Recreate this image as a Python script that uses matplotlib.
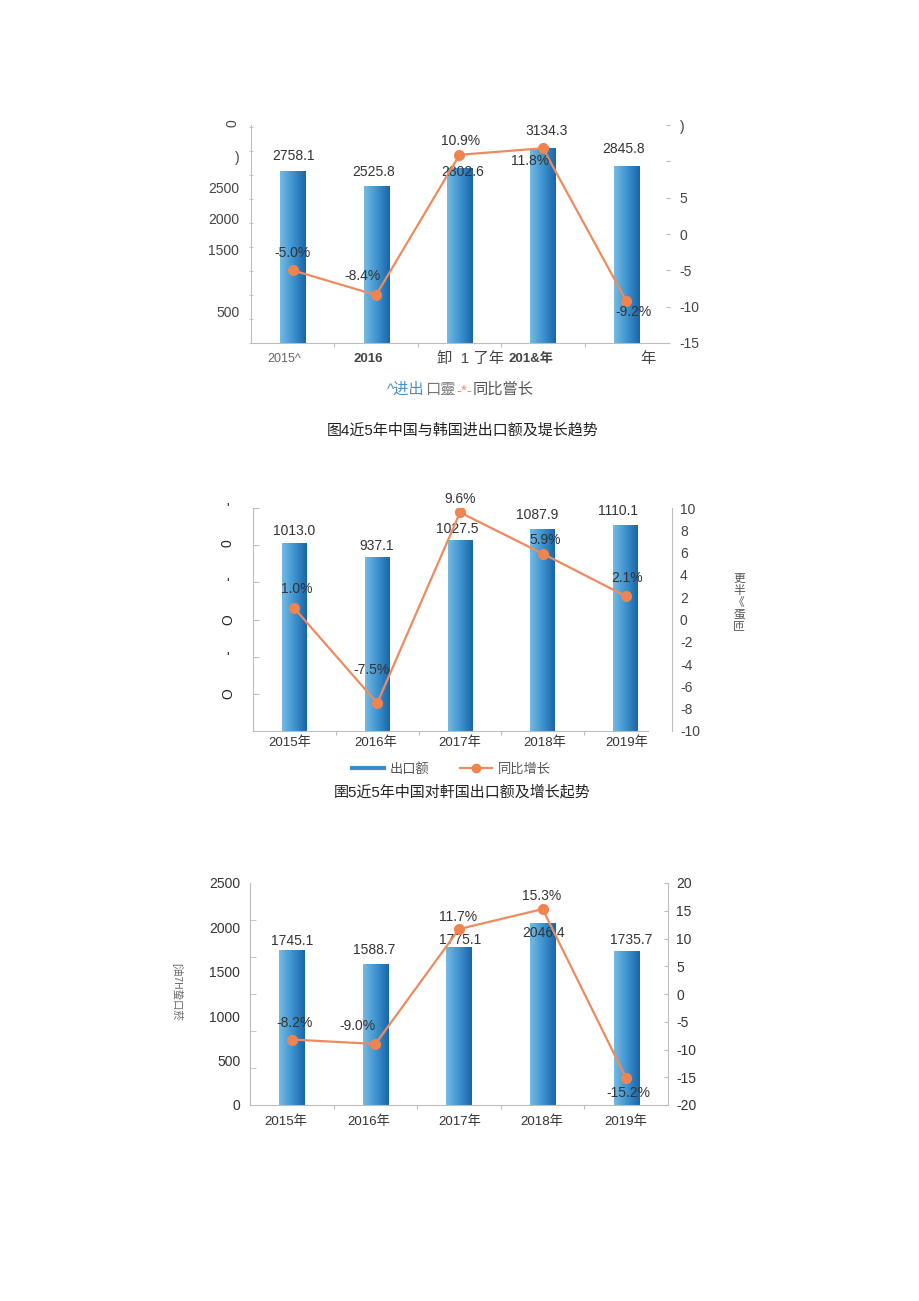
import matplotlib
matplotlib.use('Agg')
import matplotlib.pyplot as plt
import numpy as np
from matplotlib.colors import LinearSegmentedColormap
from matplotlib.lines import Line2D

plt.rcParams['font.family'] = ['Liberation Sans', 'Noto Sans CJK SC']
plt.rcParams['axes.unicode_minus'] = False

W, H = 920, 1301
PT = 0.72  # points per pixel at 100 dpi

# ---- data ----
years = ['2015年', '2016年', '2017年', '2018年', '2019年']
years_c1 = ['2015^', '2016', '卸  1 了年', '201&年', '年']

trade_total = [2758.1, 2525.8, 2802.6, 3134.3, 2845.8]
trade_growth = [-5.0, -8.4, 10.9, 11.8, -9.2]

export_total = [1013.0, 937.1, 1027.5, 1087.9, 1110.1]
export_growth = [1.0, -7.5, 9.6, 5.9, 2.1]

import_total = [1745.1, 1588.7, 1775.1, 2046.4, 1735.7]
import_growth = [-8.2, -9.0, 11.7, 15.3, -15.2]

c1_left_ticks = [500, 1500, 2000, 2500, 3000, 3500]
c1_left_labels = ['500', '1500', '2000', '2500', ')', '0']
c1_right_ticks = [-15, -10, -5, 0, 5, 10, 15]
c1_right_labels = ['-15', '-10', '-5', '0', '5', '', ')']

c2_left_ticks = [200, 400, 600, 800, 1000, 1200]
c2_left_labels = ['O', "'", 'O', "'", '0', "'"]
c2_right_ticks = [-10, -8, -6, -4, -2, 0, 2, 4, 6, 8, 10]

c3_left_ticks = [0, 500, 1000, 1500, 2000, 2500]
c3_right_ticks = [-20, -15, -10, -5, 0, 5, 10, 15, 20]

caption1 = '图4近5年中国与韩国进出口额及堤长趋势'
caption2 = '圉5近5年中国对軒国出口额及增长起势'
legend1_parts = ['^进出', '口靈', '-*-', '同比嘗长']
legend2_labels = ['出口额', '同比增长']
c2_side_title = '更半《蛋匝'
c3_side_title = '[油7H蛰口菸'

# ---- styles ----
cmap = LinearSegmentedColormap.from_list('bar', ['#74bae3', '#3e93cf', '#1a65aa'])
grad = np.linspace(0, 1, 64).reshape(1, -1)
LINE_C = '#ee8b5e'
MARK_C = '#f0844f'
SPINE_C = '#bdbdbd'
TXT_C = '#333333'

fig = plt.figure(figsize=(W / 100, H / 100), dpi=100)
fig.patch.set_facecolor('white')


def make_axes(l, t, r, b):
    ax = fig.add_axes([l / W, 1 - b / H, (r - l) / W, (b - t) / H])
    ax2 = ax.twinx()
    for s in ['top', 'right']:
        ax.spines[s].set_visible(False)
    for s in ['top', 'left', 'bottom']:
        ax2.spines[s].set_visible(False)
    for s in ['left', 'bottom']:
        ax.spines[s].set_color(SPINE_C)
    ax2.spines['right'].set_color(SPINE_C)
    ax.set_xticks([0.5, 1.5, 2.5, 3.5])
    ax.set_xticklabels([])
    ax.tick_params(axis='x', length=3, color=SPINE_C, direction='out')
    return ax, ax2


def gradient_bars(ax, values, width=0.3):
    bars = ax.bar(range(len(values)), values, width, color='none', edgecolor='none')
    for b in bars:
        x0, w, h = b.get_x(), b.get_width(), b.get_height()
        im = ax.imshow(grad, cmap=cmap, extent=(x0, x0 + w, 0, h), aspect='auto', zorder=2)
        im.set_clip_path(b)
    return bars


def growth_line(ax2, values):
    ax2.plot(range(len(values)), values, color=LINE_C, lw=1.6, marker='o',
             markersize=7, markerfacecolor=MARK_C, markeredgecolor=MARK_C, zorder=3)


def put(ax, x, y, text, dx, dy, size=10, **kw):
    ax.annotate(text, (x, y), xytext=(dx * PT, -dy * PT), textcoords='offset points',
                ha='center', va='center', fontsize=size, color=kw.pop('color', TXT_C), **kw)


def xlabels(ax, labels, dxs, dy, styles=None):
    for i, t in enumerate(labels):
        st = dict(fontsize=9.5, color='#333333')
        if styles:
            st.update(styles[i])
        ax.annotate(t, (i, 0), xycoords=ax.get_xaxis_transform(),
                    xytext=(dxs[i] * PT, -dy * PT), textcoords='offset points',
                    ha='center', va='center', **st)


# ================= chart 1 =================
ax, ax2 = make_axes(251, 125, 668, 343)
gradient_bars(ax, trade_total, 0.3)
growth_line(ax2, trade_growth)
ax.set_xlim(-0.5, 4.5)
ax.set_ylim(0, 3460)
ax2.set_ylim(-15, 15)
ax2.spines['right'].set_visible(False)

ax.set_yticks(c1_left_ticks)
ax.set_yticklabels(c1_left_labels)
ax.set_yticks(np.linspace(0, 3460, 10), minor=True)
ax.tick_params(axis='y', which='major', length=0, pad=8.5, labelsize=10, labelcolor='#444444')
ax.tick_params(axis='y', which='minor', length=3, direction='inout', color=SPINE_C)
ax.get_yticklabels()[-1].set_rotation(90)

ax2.set_yticks(c1_right_ticks)
ax2.set_yticklabels(c1_right_labels)
ax2.tick_params(axis='y', length=3, direction='inout', color=SPINE_C, pad=7,
                labelsize=10, labelcolor='#444444')

for i, (v, dx, dy) in enumerate(zip(trade_total, [0.5, -2, 3, 4, -3], [-15, -14, 4, -16.5, -16.5])):
    put(ax, i, v, f'{v:.1f}', dx, dy, zorder=4)
for i, (v, dx, dy) in enumerate(zip(trade_growth, [0, -14, 1, -13, 7], [-17, -19, -14, 13, 11])):
    put(ax2, i, v, f'{v:.1f}%', dx, dy, zorder=4)

xlabels(ax, years_c1, [-8.5, -7.5, 11, -11.5, 22], 16,
        [dict(fontsize=9, color='#666666'), dict(fontweight='bold', color='#444444'),
         dict(fontsize=11, color='#444444'), dict(fontweight='bold', color='#444444'),
         dict(fontsize=11, color='#444444')])

legend_colors = ['#4c8fc4', '#777777', LINE_C, '#555555']
prev = fig.text(386.7 / W, 1 - 390 / H, legend1_parts[0], fontsize=11,
                color=legend_colors[0], ha='left', va='center')
for part, col in zip(legend1_parts[1:], legend_colors[1:]):
    prev = fig.text(0, 0, '', fontsize=11) if False else plt.annotate(
        part, xy=(1, 0.5), xycoords=prev, xytext=(0.5, 0), textcoords='offset points',
        ha='left', va='center', fontsize=11, color=col, annotation_clip=False)

fig.text(462.5 / W, 1 - 430 / H, caption1, fontsize=10.8, color='#222222', ha='center', va='center')

# ================= chart 2 =================
ax, ax2 = make_axes(253, 508, 648, 731)
gradient_bars(ax, export_total, 0.3)
growth_line(ax2, export_growth)
ax.set_xlim(-0.5, 4.27)
ax.set_ylim(0, 1200)
ax2.set_ylim(-10, 10)
ax2.spines['right'].set_position(('outward', 17))

ax.set_yticks(c2_left_ticks)
ax.set_yticklabels(c2_left_labels)
ax.tick_params(axis='y', length=4, direction='in', color=SPINE_C, pad=18,
               labelsize=10, labelcolor='#222222')
for lbl in ax.get_yticklabels():
    lbl.set_horizontalalignment('center')
    if lbl.get_text() in ('O', '0'):
        lbl.set_rotation(90)

ax2.set_yticks(c2_right_ticks)
ax2.tick_params(axis='y', length=0, pad=6, labelsize=10, labelcolor='#444444')

for i, (v, dx, dy) in enumerate(zip(export_total, [0, -1, -3, -6, -8], [-12, -11, -11, -14, -14])):
    put(ax, i, v, f'{v:.1f}', dx, dy, zorder=4)
for i, (v, dx, dy) in enumerate(zip(export_growth, [2, -6, 0, 2, 1], [-19, -33, -13, -14, -18])):
    put(ax2, i, v, f'{v:.1f}%', dx, dy, zorder=4)

xlabels(ax, years, [-5, -1, 0, 2, 1], 12)

fig.text(739 / W, 1 - 603 / H, '\n'.join(c2_side_title), fontsize=8.5, color='#555555',
         ha='center', va='center', linespacing=1.0)

handles = [Line2D([], [], color='#3b8dc9', lw=3),
           Line2D([], [], color=LINE_C, lw=1.6, marker='o', markersize=6,
                  markerfacecolor=MARK_C, markeredgecolor=MARK_C)]
fig.legend(handles, legend2_labels, loc='center', bbox_to_anchor=(451.5 / W, 1 - 769 / H),
           ncol=2, frameon=False, fontsize=9.5, handlelength=2.4, handletextpad=0.45,
           columnspacing=2.3, labelcolor='#555555')

fig.text(462.5 / W, 1 - 792 / H, caption2, fontsize=10.8, color='#222222', ha='center', va='center')

# ================= chart 3 =================
ax, ax2 = make_axes(250, 883, 668, 1105)
gradient_bars(ax, import_total, 0.3)
growth_line(ax2, import_growth)
ax.set_xlim(-0.5, 4.5)
ax.set_ylim(0, 2500)
ax2.set_ylim(-20, 20)

ax.set_yticks(c3_left_ticks)
ax.set_yticks(np.linspace(0, 2500, 7), minor=True)
ax.tick_params(axis='y', which='major', length=0, pad=7, labelsize=10, labelcolor='#333333')
ax.tick_params(axis='y', which='minor', length=4, direction='in', color=SPINE_C)

ax2.set_yticks(c3_right_ticks)
ax2.tick_params(axis='y', length=3, direction='in', color=SPINE_C, pad=6,
                labelsize=10, labelcolor='#333333')

for i, (v, dx, dy) in enumerate(zip(import_total, [0, -1, 1, 1, 5], [-9, -14, -7, 10, -11])):
    put(ax, i, v, f'{v:.1f}', dx, dy, zorder=4)
for i, (v, dx, dy) in enumerate(zip(import_growth, [3, -18, -1, -1, 2], [-17, -18, -12, -13, 15])):
    put(ax2, i, v, f'{v:.1f}%', dx, dy, zorder=4)

xlabels(ax, years, [-6, -6.5, 1, -1, 0], 17)

fig.text(176.7 / W, 1 - 992 / H, c3_side_title, fontsize=7.5, color='#666666',
         ha='center', va='center', rotation=-90)

fig.savefig('out.png', dpi=100, facecolor='white')
